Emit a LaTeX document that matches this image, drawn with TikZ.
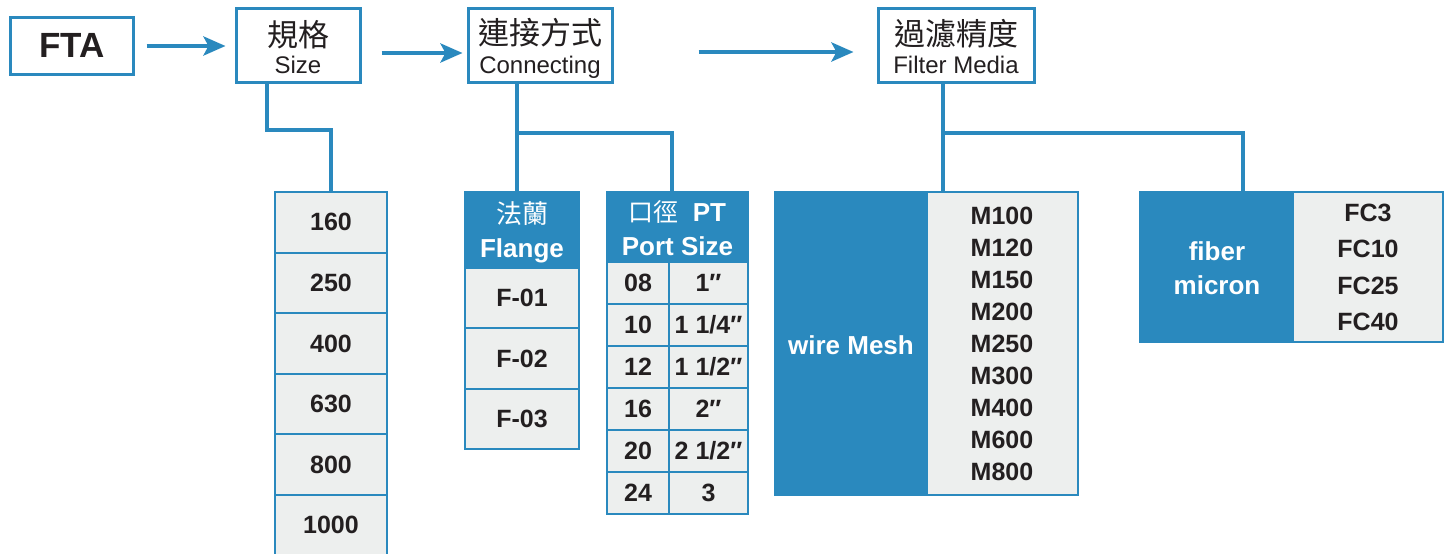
\documentclass[tikz,border=0pt]{standalone}
\usepackage{fontspec}
\setmainfont{Liberation Sans}
\newfontfamily\cjk{Noto Sans CJK TC}
\usetikzlibrary{arrows.meta}
\definecolor{bm}{RGB}{42,137,190}
\definecolor{cg}{RGB}{237,239,238}
\definecolor{tk}{RGB}{35,31,32}
\newcommand\myfs[1]{\fontsize{#1}{#1}\selectfont}
\begin{document}
\begin{tikzpicture}[x=1pt,y=-1pt,
  hbox/.style={draw=bm,line width=3pt,fill=white,inner sep=0},
  cell/.style={draw=bm,line width=2pt,fill=cg,inner sep=0},
  bcell/.style={draw=bm,line width=2pt,fill=bm,inner sep=0},
  num/.style={font=\bfseries\myfs{25},text=tk,inner sep=0},
  wtxt/.style={font=\bfseries\myfs{26},text=white,inner sep=0},
  cjkhead/.style={font=\cjk\myfs{31},text=tk,inner sep=0},
  enhead/.style={font=\myfs{24},text=tk,anchor=base,inner sep=0},
  conn/.style={draw=bm,line width=4pt},
  arr/.style={draw=bm,line width=4.5pt,-{Stealth[length=22pt,width=19pt,inset=5pt]}}]
\useasboundingbox (0,0) rectangle (1452,554);
\clip (0,0) rectangle (1452,554);
% header boxes
\node[hbox,minimum width=123pt,minimum height=57pt] (fta) at (71.5,46) {};
\node[font=\bfseries\myfs{35},text=tk,anchor=base,inner sep=0] (ftat) at (72,57) {FTA};
\node[hbox,minimum width=124pt,minimum height=74pt] (size) at (298,45) {};
\node[cjkhead] (sizea) at (298,35) {規格};
\node[enhead] (sizeb) at (298,73) {Size};
\node[hbox,minimum width=144pt,minimum height=74pt] (conn) at (540,45) {};
\node[cjkhead] (conna) at (540,33) {連接方式};
\node[enhead] (connb) at (540,73) {Connecting};
\node[hbox,minimum width=156pt,minimum height=74pt] (filt) at (956,45) {};
\node[cjkhead] (filta) at (956,34) {過濾精度};
\node[enhead] (filtb) at (956,73) {Filter Media};
% arrows
\draw[arr,shorten <=12pt,shorten >=9pt] (fta.east) -- (size.west |- fta.east);
\draw[arr,shorten <=20pt,shorten >=4pt] ([yshift=-8pt]size.east) -- ([yshift=-8pt]size.east -| conn.west);
\draw[arr,shorten <=85pt,shorten >=23pt] ([yshift=-7pt]conn.east) -- ([yshift=-7pt]conn.east -| filt.west);
% size table
\foreach \v [count=\i] in {160,250,400,630,800,1000} {
  \node[cell,minimum width=112pt,minimum height=60.6pt] (s\i) at (331,{192+60.6*(\i-0.5)}) {};
  \node[num] (st\i) at (s\i) {\v};
}
% flange table
\node[bcell,minimum width=114pt,minimum height=76pt] (f0) at (522,230) {};
\node[font=\cjk\myfs{26},text=white,inner sep=0] (f0a) at (522,214) {法蘭};
\node[wtxt,anchor=base] (f0b) at (522,257) {Flange};
\foreach \v [count=\i] in {F-01,F-02,F-03} {
  \node[cell,minimum width=114pt,minimum height=60.3pt] (f\i) at (522,{268+60.3*(\i-0.5)}) {};
  \node[num] (ft\i) at (f\i) {\v};
}
% port table
\node[bcell,minimum width=141pt,minimum height=70pt] (p0) at (677.5,227) {};
\node[text=white,inner sep=0] (p0a) at (677.5,212) {{\cjk\myfs{25}口徑}\hspace{14pt}{\bfseries\myfs{26}PT}};
\node[wtxt] (p0b) at (677.5,246) {Port Size};
\foreach \a/\b [count=\i] in {{08}/{1″},{10}/{1 1/4″},{12}/{1 1/2″},{16}/{2″},{20}/{2 1/2″},{24}/{3}} {
  \node[cell,minimum width=62pt,minimum height=42pt] (pl\i) at (638,{262+42*(\i-0.5)}) {};
  \node[cell,minimum width=79pt,minimum height=42pt] (pr\i) at (708.5,{262+42*(\i-0.5)}) {};
  \node[num] (plt\i) at (pl\i) {\a};
  \node[num] (prt\i) at (pr\i) {\b};
}
% wire mesh
\node[bcell,minimum width=152pt,minimum height=303pt] (wm) at (851,343.5) {};
\node[cell,minimum width=151pt,minimum height=303pt] (wv) at (1002.5,343.5) {};
\node[wtxt] (wmt) at (851,345) {wire Mesh};
\foreach \v [count=\i] in {M100,M120,M150,M200,M250,M300,M400,M600,M800} {
  \node[num] (mv\i) at (1002,{216+32*(\i-1)}) {\v};
}
% fiber
\node[bcell,minimum width=153pt,minimum height=150pt] (fb) at (1216.5,267) {};
\node[cell,minimum width=150pt,minimum height=150pt] (fv) at (1368,267) {};
\node[wtxt,anchor=base] (fbt1) at (1217,260) {fiber};
\node[wtxt,anchor=base] (fbt2) at (1217,294) {micron};
\foreach \v [count=\i] in {FC3,FC10,FC25,FC40} {
  \node[num] (fc\i) at (1368,{213+36.3*(\i-1)}) {\v};
}
% connectors
\coordinate (sj) at (267,130);
\draw[conn] (sj |- size.south) -- (sj) -| (s1.north);
\coordinate (cj) at (517,133);
\coordinate (pj) at (672,133);
\draw[conn] (cj |- conn.south) -- (cj |- f0.north);
\draw[conn] (cj) -- (pj) -- (pj |- p0.north);
\coordinate (fj) at (943,133);
\coordinate (fk) at (1243,133);
\draw[conn] (fj |- filt.south) -- (fj |- wm.north);
\draw[conn] (fj) -- (fk) -- (fk |- fb.north);
\end{tikzpicture}
\end{document}
